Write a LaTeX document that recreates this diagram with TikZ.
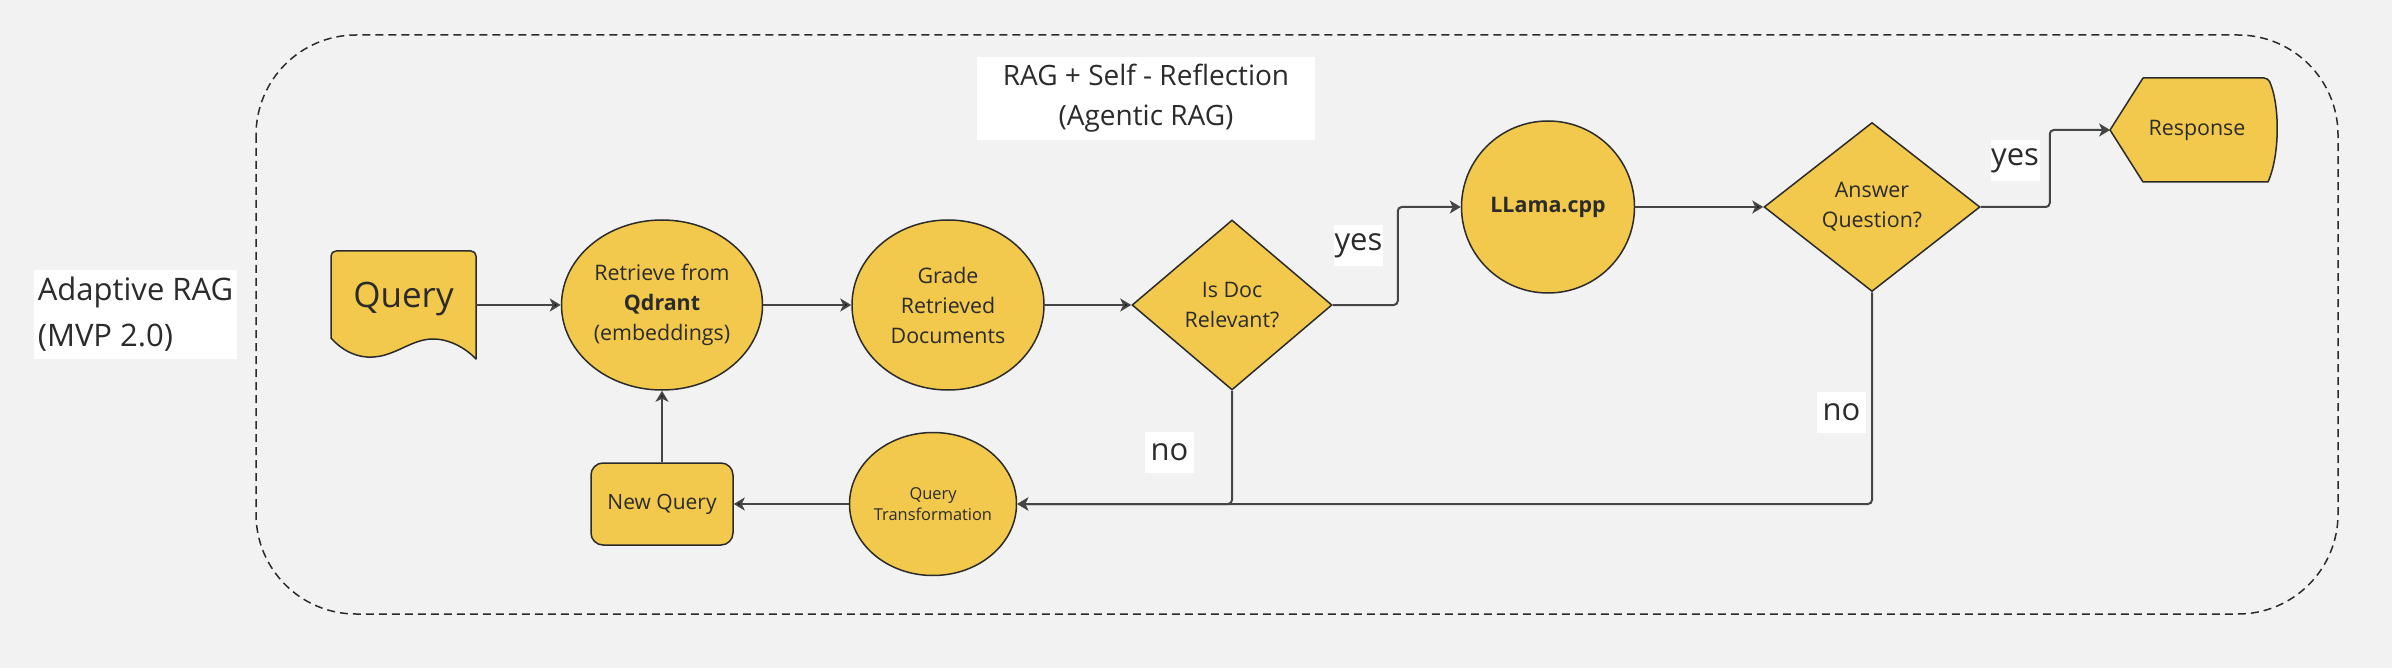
\documentclass[tikz,border=0pt]{standalone}
\usepackage{fontspec}
\setmainfont{Open Sans}
\usetikzlibrary{shapes.geometric, arrows.meta, positioning}
\definecolor{miroyellow}{HTML}{F2C94C}
\definecolor{ink}{HTML}{2B2B2B}
\definecolor{wire}{HTML}{454545}
\definecolor{canvas}{HTML}{F2F2F2}

\begin{document}
\begin{tikzpicture}[x=0.5pt, y=-0.5pt, on grid, node distance=143pt,
    every node/.style={text=ink},
    proc/.style={ellipse, draw=ink, line width=0.75pt, fill=miroyellow, inner sep=0pt, align=center, font=\fontsize{10.7}{15}\selectfont},
    decision/.style={diamond, aspect=1.2, draw=ink, line width=0.75pt, fill=miroyellow, inner sep=0pt, align=center, font=\fontsize{10.7}{15}\selectfont},
    card/.style={rectangle, rounded corners=6pt, draw=ink, line width=0.75pt, fill=miroyellow, inner sep=0pt, font=\fontsize{10.5}{14}\selectfont},
    outline/.style={draw=ink, line width=0.75pt, fill=miroyellow, line join=round},
    tag/.style={fill=white, inner sep=0pt, minimum width=24.5pt, minimum height=20.5pt, font=\fontsize{15.5}{18}\selectfont},
    flow/.style={draw=wire, line width=1pt, rounded corners=2pt, -{Stealth[length=5.5pt, width=6.5pt, inset=1.5pt]}}]

    \fill[canvas] (0,0) rectangle (2392,668);
    \draw[ink, line width=0.75pt, dash pattern=on 4pt off 2.5pt, rounded corners=50pt] (256,35) rectangle (2338,614);

    \node[fill=white, inner sep=0pt, minimum width=169pt, minimum height=41.5pt, align=center, font=\fontsize{14}{20}\selectfont] (title) at (1146,98.5) {RAG + Self - Reflection\\(Agentic RAG)};
    \node[fill=white, inner sep=0pt, minimum width=101.5pt, minimum height=44.5pt, align=left, font=\fontsize{15.5}{23}\selectfont] (adaptive) at (135.5,314.5) {Adaptive RAG\\(MVP 2.0)};

    % query document
    \node[inner sep=0pt, minimum width=72.5pt, minimum height=54pt] (query) at (403.5,305) {};
    \filldraw[outline, shift={(query.center)}] (72.5,54) [rounded corners=2.5pt] -- (72.5,-54) -- (-72.5,-54) [sharp corners] -- (-72.5,33)
        .. controls (-60,47) and (-45,53) .. (-30.5,52) .. controls (-8,51) and (8,34) .. (29.5,34) .. controls (46,34) and (62,43) .. (72.5,54) -- cycle;
    \node[font=\fontsize{17.5}{20}\selectfont] (querytext) at ([yshift=3pt]query.center) {Query};

    \node[proc, minimum width=100.5pt, minimum height=85pt] (retrieve) at (662,305) {Retrieve from\\\textbf{Qdrant}\\(embeddings)};
    \node[proc, minimum width=96pt, minimum height=85pt] (grade) [right=of retrieve] {Grade\\Retrieved\\Documents};
    \node[decision, minimum width=100pt, minimum height=85pt] (isdoc) [right=142pt of grade] {Is Doc\\Relevant?};
    \node[proc, minimum width=86.5pt, minimum height=86pt] (llama) at (1548,207) {\textbf{LLama.cpp}};
    \node[decision, minimum width=108pt, minimum height=84.5pt] (answer) [right=162pt of llama] {Answer\\Question?};
    \node[card, minimum width=71pt, minimum height=41pt] (newq) [below=99.5pt of retrieve] {New Query};
    \node[proc, minimum width=82pt, minimum height=71.5pt, font=\fontsize{8.2}{10.5}\selectfont] (qtrans) [right=135.5pt of newq] {Query\\Transformation};

    % response display
    \node[inner sep=0pt, minimum width=83.5pt, minimum height=52pt] (response) at (2194,130) {};
    \filldraw[outline, shift={(response.center)}] (-84,0) -- (-51,-52) [rounded corners=2pt] -- (74,-52) [sharp corners]
        .. controls (86,-25) and (86,25) .. (74,52) -- (-51,52) -- cycle;
    \node[font=\fontsize{10.7}{14}\selectfont] (responsetext) at ([xshift=1.5pt]response.center) {Response};

    \path[flow]
    (query) edge (retrieve)
    (retrieve) edge (grade)
    (grade) edge (isdoc)
    (llama) edge (answer)
    (qtrans) edge (newq)
    (newq) edge (retrieve);

    \draw[flow] (isdoc.east) -- ++(65,0) |- (llama.west);
    \draw[flow] (answer.east) -- ++(69,0) |- (response.west);
    \draw[flow] (isdoc.south) |- (qtrans.east);
    \draw[flow] (answer.south) |- (qtrans.east);

    \node[tag] (yesdoc) at (1358.5,245.5) {yes};
    \node[tag] (yesanswer) at (2015,161) {yes};
    \node[tag] (nodoc) at (1169.5,452) {no};
    \node[tag] (noanswer) at (1841.5,412) {no};
\end{tikzpicture}
\end{document}
